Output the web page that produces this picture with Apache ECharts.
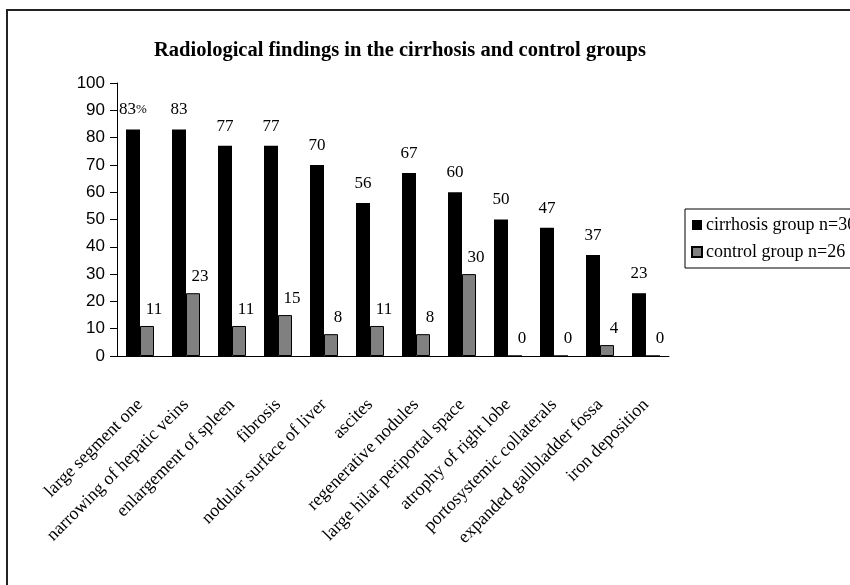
<!DOCTYPE html>
<html lang="en">
<head>
    <meta charset="UTF-8">
    <title>Radiological findings</title>
    <style>
        html, body { margin: 0; padding: 0; background: #fff; }
    </style>
</head>
<body>
<div id="main" style="width: 850px;height:585px;"></div>
<script src="https://cdn.jsdelivr.net/npm/echarts@6/dist/echarts.min.js"></script>
<script>
    var categories = ['large segment one', 'narrowing of hepatic veins', 'enlargement of spleen', 'fibrosis',
        'nodular surface of liver', 'ascites', 'regenerative nodules', 'large hilar periportal space',
        'atrophy of right lobe', 'portosystemic collaterals', 'expanded gallbladder fossa', 'iron deposition'];
    var cirrhosisValues = [83, 83, 77, 77, 70, 56, 67, 60, 50, 47, 37, 23];
    var controlValues = [11, 23, 11, 15, 8, 11, 8, 30, 0, 0, 4, 0];
    var yTicks = [0, 10, 20, 30, 40, 50, 60, 70, 80, 90, 100];

    var serif = '"Liberation Serif", "Times New Roman", serif';
    var sans = '"Liberation Sans", Arial, sans-serif';

    var myChart = echarts.init(document.getElementById('main'));
    var option = {
        backgroundColor: '#fff',
        animation: false,
        graphic: [{
            type: 'rect',
            shape: {x: 7, y: 10, width: 900, height: 700},
            style: {fill: 'none', stroke: '#222', lineWidth: 2}
        }],
        title: {
            text: 'Radiological findings in the cirrhosis and control groups',
            left: 395,
            top: 35,
            textAlign: 'center',
            textStyle: {fontFamily: serif, fontWeight: 'bold', fontSize: 20.5, color: '#000'}
        },
        legend: {
            orient: 'vertical',
            left: 685,
            top: 209,
            padding: [7, 6, 7, 6],
            itemGap: 9,
            itemWidth: 10,
            itemHeight: 10,
            borderColor: '#000',
            borderWidth: 1,
            icon: 'rect',
            textStyle: {fontFamily: serif, fontSize: 18, color: '#000', padding: [0, 0, 0, -1]},
            data: ['cirrhosis group n=30', 'control group n=26']
        },
        grid: {left: 117, right: 181, top: 83, bottom: 229},
        xAxis: {
            type: 'category',
            data: categories,
            axisLine: {lineStyle: {color: '#000', width: 1}},
            axisTick: {length: 7, lineStyle: {color: '#000'}},
            axisLabel: {
                interval: 0,
                rotate: 45,
                margin: 46,
                fontFamily: serif,
                fontSize: 18,
                color: '#000'
            }
        },
        yAxis: {
            type: 'value',
            min: yTicks[0],
            max: yTicks[yTicks.length - 1],
            interval: 10,
            splitLine: {show: false},
            axisLine: {show: true, lineStyle: {color: '#000'}},
            axisTick: {show: true, length: 7, lineStyle: {color: '#000'}},
            axisLabel: {margin: 12, fontFamily: sans, fontSize: 17, color: '#000'}
        },
        series: [
            {
                name: 'cirrhosis group n=30',
                type: 'bar',
                data: cirrhosisValues,
                barWidth: 14,
                barGap: '0%',
                itemStyle: {color: '#000'},
                label: {
                    show: true,
                    position: 'top',
                    distance: 11,
                    fontFamily: serif,
                    fontSize: 17,
                    color: '#000',
                    formatter: function (p) {
                        return p.dataIndex === 0 ? p.value + '{p|%}' : String(p.value);
                    },
                    rich: {p: {fontFamily: serif, fontSize: 13, color: '#000'}}
                }
            },
            {
                name: 'control group n=26',
                type: 'bar',
                data: controlValues,
                barWidth: 14,
                itemStyle: {color: '#808080', borderColor: '#000', borderWidth: 1},
                label: {
                    show: true,
                    position: 'top',
                    distance: 8,
                    offset: [7, 0],
                    fontFamily: serif,
                    fontSize: 17,
                    color: '#000'
                }
            }
        ]
    };
    myChart.setOption(option);
</script>
</body>
</html>
